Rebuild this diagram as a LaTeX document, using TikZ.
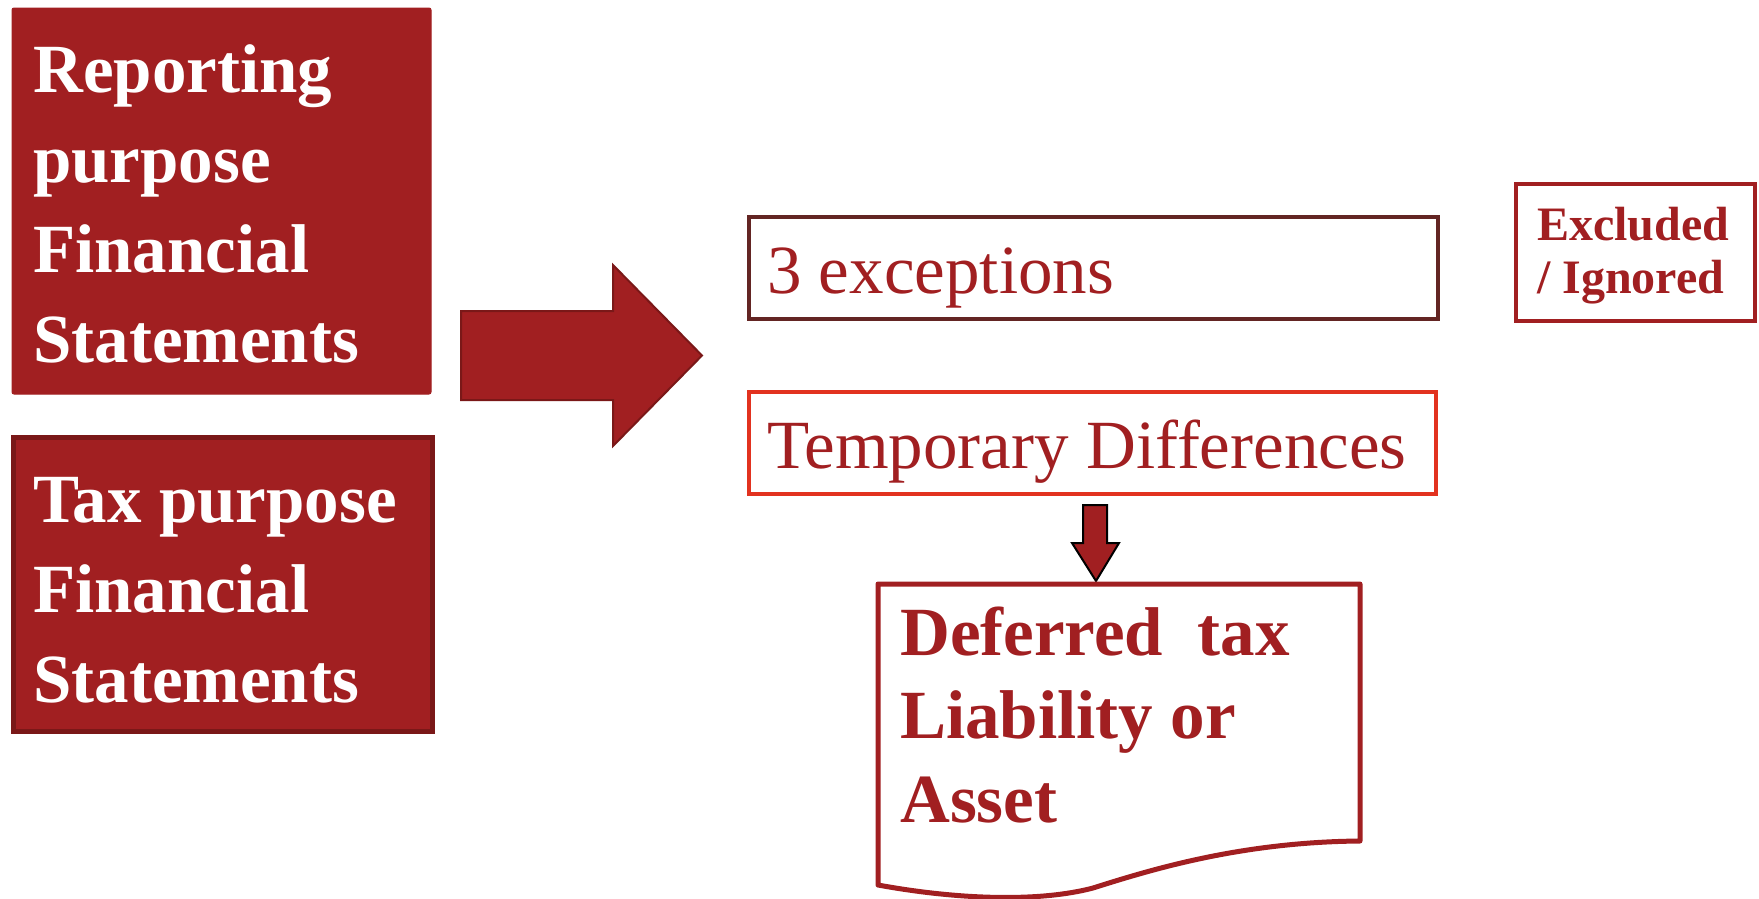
\documentclass[tikz,border=0pt]{standalone}
\usepackage{fontspec}
\setmainfont{Liberation Serif}
\definecolor{mainred}{HTML}{A11F21}
\definecolor{darkred}{HTML}{7A1818}
\definecolor{brownline}{HTML}{632523}
\definecolor{brightred}{HTML}{E2321F}
\tikzset{
  box/.style={rectangle, inner sep=0pt, outer sep=0pt, anchor=north west},
  filledbox/.style={box, fill=mainred},
  whitetxt/.style={inner sep=0pt, anchor=base west, align=left, text=white,
    font=\fontsize{69}{89.7}\selectfont\bfseries},
  redtxt/.style={inner sep=0pt, anchor=base west, align=left, text=mainred},
  blockarrow/.style={fill=mainred, line join=miter},
}
\begin{document}
\begin{tikzpicture}[x=1pt,y=-1pt]
\useasboundingbox (0,0) rectangle (1759,898);
% left boxes (text nodes anchored at the baseline of their last line)
\node[filledbox, draw=mainred, line width=1pt, rounded corners=2pt,
  minimum width=419, minimum height=386] (rep) at (12,8) {};
\node[whitetxt] (rept) at (33,362) {Reporting\\purpose\\Financial\\Statements};
\node[filledbox, draw=darkred, line width=4.5pt,
  minimum width=419, minimum height=294] (tax) at (13.5,437.5) {};
\node[whitetxt] (taxt) at (33,702) {Tax purpose\\Financial\\Statements};
% big right arrow
\draw[blockarrow, draw=darkred, line width=2pt]
  (461,311) -- (613,311) -- (613,265) -- (702,355.5) -- (613,446) -- (613,400) -- (461,400) -- cycle;
% middle boxes
\node[box, draw=brownline, line width=4pt, minimum width=689, minimum height=102] (exc) at (749,217) {};
\node[redtxt, font=\fontsize{69}{84}\selectfont] (exct) at (767,293) {3 exceptions};
\node[box, draw=brightred, line width=4pt, minimum width=687, minimum height=102] (tmp) at (749,392) {};
\node[redtxt, font=\fontsize{69}{84}\selectfont] (tmpt) at (767,468) {Temporary Differences};
% excluded box
\node[box, draw=mainred, line width=4pt, minimum width=239, minimum height=137] (ign) at (1516,184) {};
\node[redtxt, font=\fontsize{48}{53}\selectfont\bfseries] (ignt) at (1537,293) {Excluded\\/ Ignored};
% down arrow
\draw[blockarrow, draw=black, line width=2pt]
  (1083,505) -- (1107,505) -- (1107,543) -- (1119,543) -- (1096,581) -- (1072,543) -- (1083,543) -- cycle;
% document shape
\draw[draw=mainred, line width=5pt, line join=round]
  (878,584) -- (1360,584) -- (1360,841)
  .. controls (1240,842) and (1150,870) .. (1093,888)
  .. controls (1040,902) and (960,900) .. (878,885) -- cycle;
\node[redtxt, font=\fontsize{69}{83.5}\selectfont\bfseries] (dtl) at (900,822) {Deferred\ \ tax\\Liability or\\Asset};
\end{tikzpicture}
\end{document}
